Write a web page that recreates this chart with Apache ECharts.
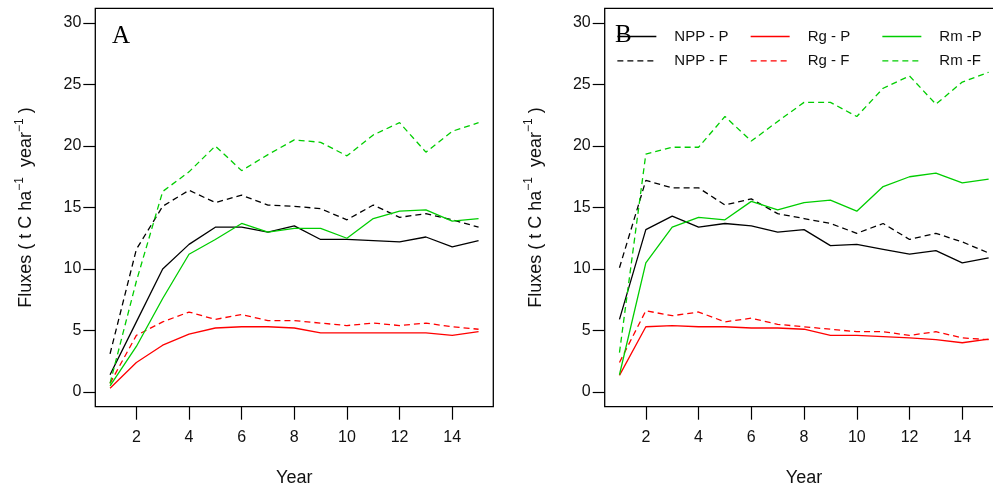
<!DOCTYPE html>
<html>
<head>
<meta charset="utf-8">
<script src="https://cdn.jsdelivr.net/npm/echarts@6/dist/echarts.min.js"></script>
<style>
html,body{margin:0;padding:0;background:#fff;}
#c{width:993px;height:486px;}
</style>
</head>
<body>
<div id="c"></div>
<script>
// ---- data ----
const years = [1,2,3,4,5,6,7,8,9,10,11,12,13,14,15];
const xTicks = [2,4,6,8,10,12,14];
const yTicks = [0,5,10,15,20,25,30];

// Panel A
const nppP_A = [1.4, 5.7, 10.0, 12.0, 13.4, 13.4, 13.0, 13.5, 12.4, 12.4, 12.3, 12.2, 12.6, 11.8, 12.3];
const nppF_A = [3.1, 11.6, 15.1, 16.4, 15.4, 16.0, 15.2, 15.1, 14.9, 14.0, 15.2, 14.2, 14.5, 14.0, 13.4];
const rgP_A  = [0.3, 2.4, 3.8, 4.7, 5.2, 5.3, 5.3, 5.2, 4.8, 4.8, 4.8, 4.8, 4.8, 4.6, 4.9];
const rgF_A  = [0.7, 4.6, 5.7, 6.5, 5.9, 6.3, 5.8, 5.8, 5.6, 5.4, 5.6, 5.4, 5.6, 5.3, 5.1];
const rmP_A  = [0.5, 3.7, 7.6, 11.2, 12.4, 13.7, 13.0, 13.3, 13.3, 12.5, 14.1, 14.7, 14.8, 13.9, 14.1];
const rmF_A  = [0.7, 9.0, 16.3, 17.9, 20.0, 18.0, 19.3, 20.5, 20.3, 19.2, 20.9, 21.9, 19.5, 21.2, 21.9];

// Panel B
const nppP_B = [5.9, 13.2, 14.3, 13.4, 13.7, 13.5, 13.0, 13.2, 11.9, 12.0, 11.6, 11.2, 11.5, 10.5, 10.9];
const nppF_B = [10.1, 17.2, 16.6, 16.6, 15.2, 15.7, 14.5, 14.1, 13.7, 12.9, 13.7, 12.4, 12.9, 12.2, 11.3];
const rgP_B  = [1.35, 5.3, 5.4, 5.3, 5.3, 5.2, 5.2, 5.1, 4.6, 4.6, 4.5, 4.4, 4.25, 4.0, 4.3];
const rgF_B  = [2.4, 6.6, 6.2, 6.5, 5.7, 6.0, 5.5, 5.3, 5.1, 4.9, 4.9, 4.6, 4.9, 4.4, 4.25];
const rmP_B  = [1.4, 10.5, 13.4, 14.2, 14.0, 15.5, 14.8, 15.4, 15.6, 14.7, 16.7, 17.5, 17.8, 17.0, 17.3];
const rmF_B  = [3.2, 19.35, 19.9, 19.9, 22.4, 20.4, 22.0, 23.55, 23.55, 22.4, 24.7, 25.7, 23.4, 25.2, 26.0];

const names = ['NPP - P','NPP - F','Rg - P','Rg - F','Rm -P','Rm -F'];
const panelLabels = ['A','B'];

// ---- styling ----
const FONT = 'Liberation Sans, Arial, sans-serif';
const BLACK = '#000000', RED = '#FF0000', GREEN = '#00CD00';
const DASH = [6,4];

function mkX(gi){
  return {
    type:'value', gridIndex:gi, min:0.44, max:15.56,
    axisLine:{show:false, onZero:false},
    axisTick:{show:true, inside:false, length:13, customValues:xTicks, lineStyle:{color:'#000', width:1.2}},
    axisLabel:{customValues:xTicks, margin:23, fontSize:16, color:'#111', fontFamily:FONT},
    splitLine:{show:false},
    name:'Year', nameLocation:'middle', nameGap:62,
    nameTextStyle:{fontSize:18, color:'#111', fontFamily:FONT}
  };
}
function mkY(gi){
  return {
    type:'value', gridIndex:gi, min:-1.2, max:31.2,
    axisLine:{show:false, onZero:false},
    axisTick:{show:true, inside:false, length:12, customValues:yTicks, lineStyle:{color:'#000', width:1.2}},
    axisLabel:{customValues:yTicks, margin:14, fontSize:16, color:'#111', fontFamily:FONT},
    splitLine:{show:false},
    name:'{a|Fluxes ( t C ha}{s|−1}{a|  year}{s|−1}{a| )}',
    nameLocation:'middle', nameGap:60, nameRotate:90,
    nameTextStyle:{
      fontSize:18, color:'#111', fontFamily:FONT,
      rich:{
        a:{fontSize:18, color:'#111', fontFamily:FONT, lineHeight:22, verticalAlign:'bottom'},
        s:{fontSize:12, color:'#111', fontFamily:FONT, lineHeight:22, verticalAlign:'top'}
      }
    }
  };
}
function mkS(name, vals, color, dashed, gi){
  return {
    type:'line', name:name, xAxisIndex:gi, yAxisIndex:gi,
    data: years.map((yr,i)=>[yr, vals[i]]),
    symbol:'none', showSymbol:false, silent:true,
    lineStyle:{color:color, width:1.3, type: dashed ? DASH : 'solid'},
    itemStyle:{color:color}
  };
}

const panels = [
  [nppP_A, nppF_A, rgP_A, rgF_A, rmP_A, rmF_A],
  [nppP_B, nppF_B, rgP_B, rgF_B, rmP_B, rmF_B]
];
const colors = [BLACK, BLACK, RED, RED, GREEN, GREEN];
const dashes = [false, true, false, true, false, true];

const series = [];
panels.forEach((arrs, gi)=>{
  arrs.forEach((vals, k)=>{
    series.push(mkS(names[k], vals, colors[k], dashes[k], gi));
  });
});

function mkLegend(items, left){
  return {
    data: items, left: left, top: 29, orient:'vertical',
    itemWidth:39, itemHeight:14, itemGap:9.3, padding:0,
    selectedMode:false,
    itemStyle:{color:'rgba(0,0,0,0)', borderColor:'rgba(0,0,0,0)', borderWidth:0},
    lineStyle:{width:1.3},
    textStyle:{fontSize:15, color:'#111', fontFamily:FONT, lineHeight:15, padding:[0,0,0,13]}
  };
}

const option = {
  animation:false,
  backgroundColor:'#ffffff',
  grid:[
    {left:95.3, top:8.3, width:398, height:398.4, show:true, borderColor:'#000', borderWidth:1.3, backgroundColor:'transparent', containLabel:false, outerBoundsMode:'none'},
    {left:604.7, top:8.3, width:398.7, height:398.4, show:true, borderColor:'#000', borderWidth:1.3, backgroundColor:'transparent', containLabel:false, outerBoundsMode:'none'}
  ],
  xAxis:[mkX(0), mkX(1)],
  yAxis:[mkY(0), mkY(1)],
  legend:[
    mkLegend([names[0], names[1]], 616.7),
    mkLegend([names[2], names[3]], 750),
    mkLegend([names[4], names[5]], 881.7)
  ],
  graphic:[
    {type:'text', left:112, top:24, style:{text:panelLabels[0], fontSize:25, fontFamily:'Liberation Serif, Times New Roman, serif', fill:'#000'}},
    {type:'text', left:615, top:23, style:{text:panelLabels[1], fontSize:25, fontFamily:'Liberation Serif, Times New Roman, serif', fill:'#000'}}
  ],
  series: series
};

const chart = echarts.init(document.getElementById('c'), null, {renderer:'canvas'});
chart.setOption(option);
</script>
</body>
</html>
